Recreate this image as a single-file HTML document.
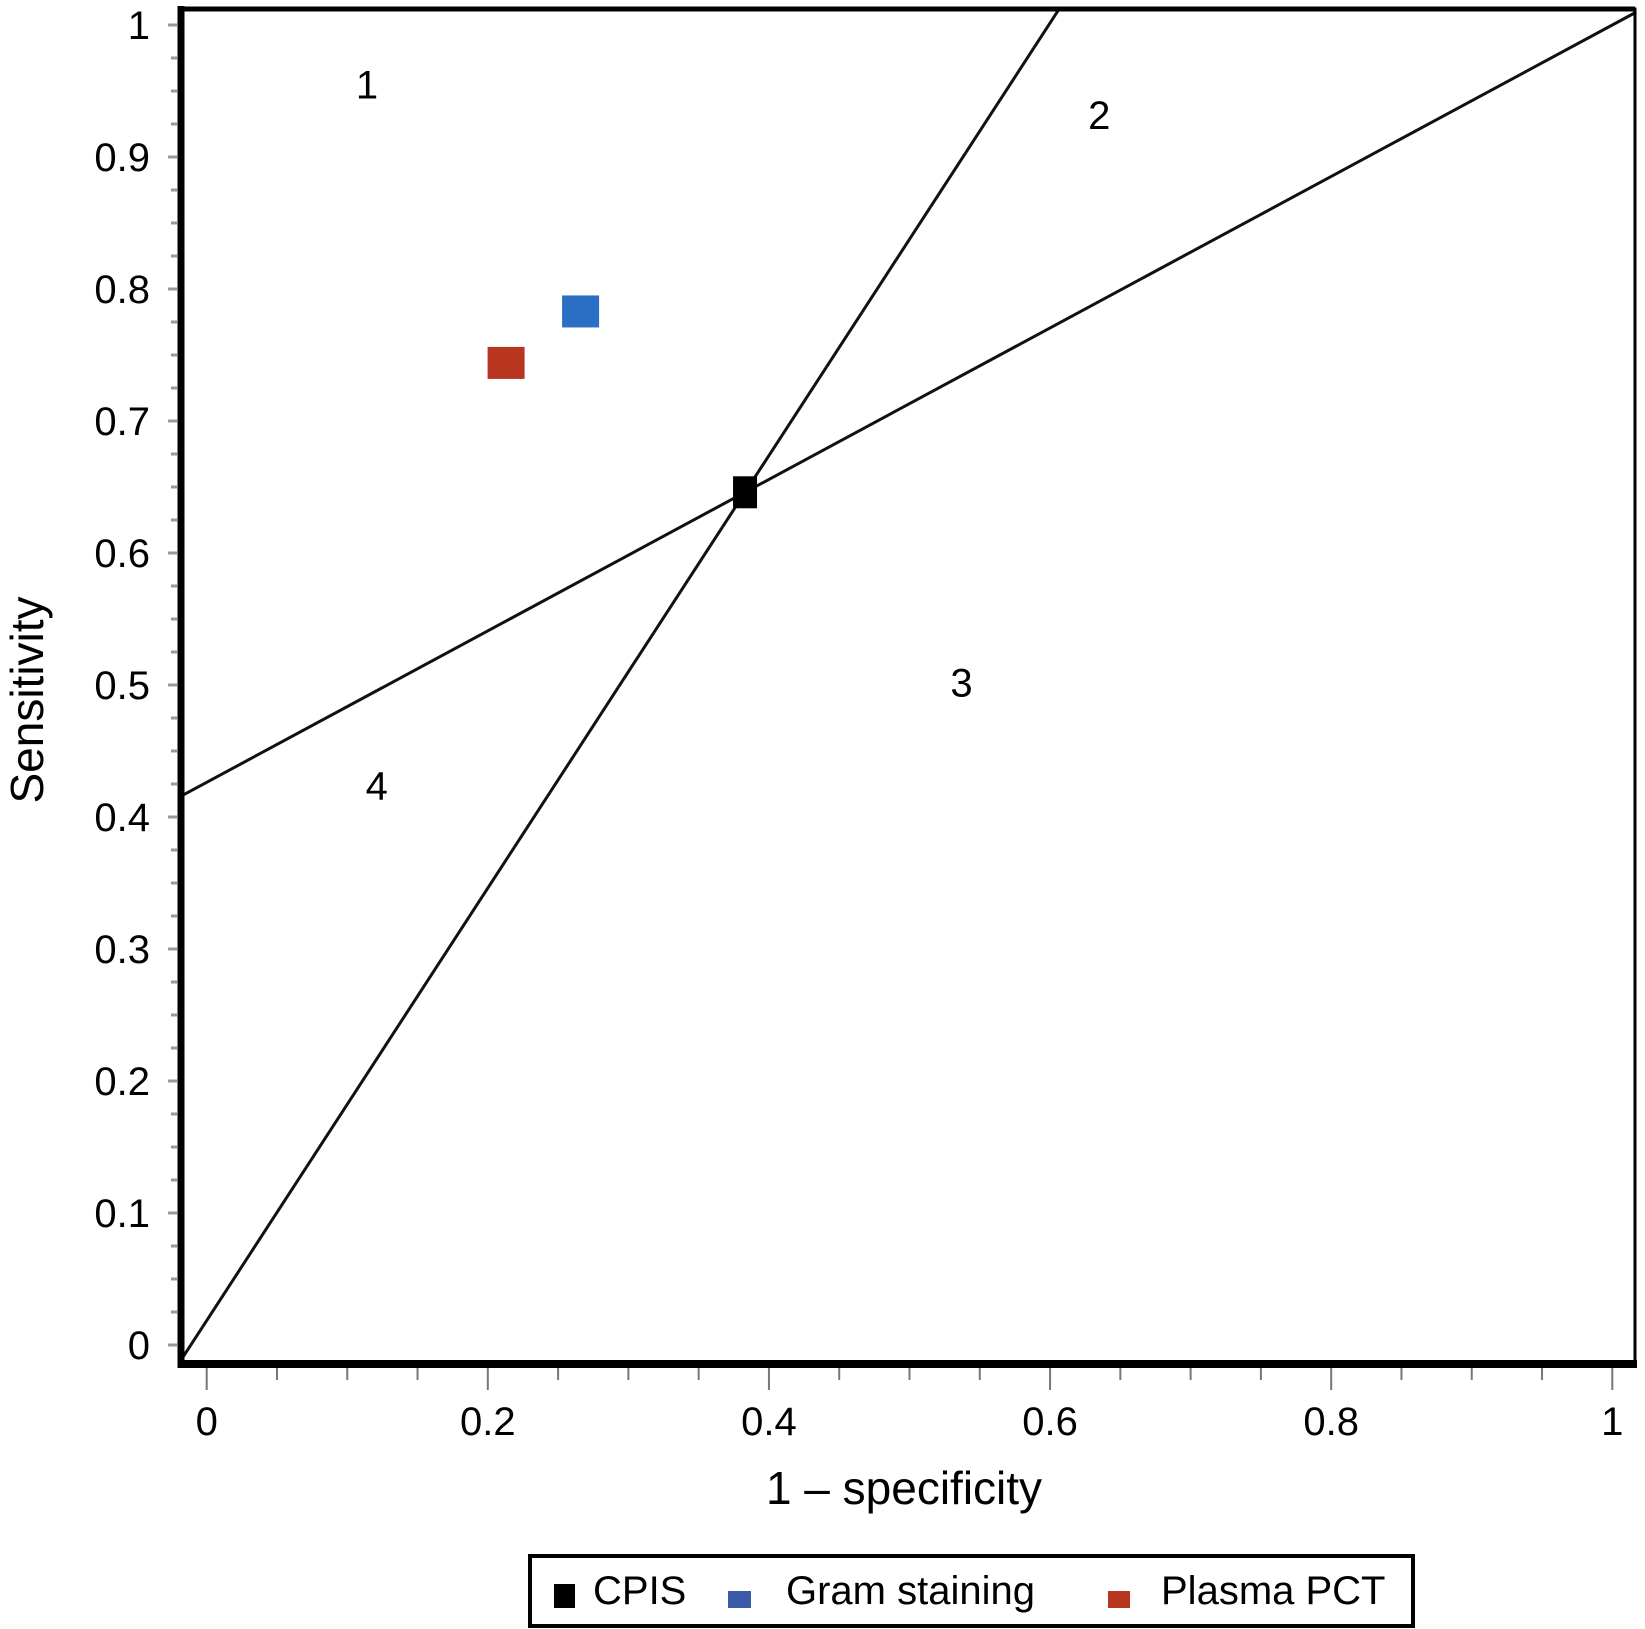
<!DOCTYPE html>
<html><head><meta charset="utf-8"><style>
html,body{margin:0;padding:0;background:#fff;}
svg{display:block;font-family:"Liberation Sans",sans-serif;}
</style></head><body>
<svg id="chart" width="1645" height="1629" viewBox="0 0 1645 1629">
<g id="ticks"></g>
<g id="lines"></g>
<g id="frame">
<rect x="181" y="9" width="1454" height="1353" fill="none" stroke="#000" stroke-width="3"/>
<line x1="181" y1="6" x2="181" y2="1368" stroke="#000" stroke-width="7"/>
<line x1="178" y1="1364" x2="1637" y2="1364" stroke="#000" stroke-width="8"/>
<line x1="181" y1="9" x2="1635" y2="9" stroke="#000" stroke-width="5"/>
</g>
<g id="points"></g>
<g id="regions"></g>
<text x="904" y="1504" font-size="46" text-anchor="middle">1 – specificity</text>
<text transform="translate(43,700) rotate(-90)" font-size="46" text-anchor="middle">Sensitivity</text>
<g>
<rect x="530" y="1556" width="883" height="70" fill="#fff" stroke="#000" stroke-width="4"/>
<g><rect x="554" y="1584" width="21" height="24" fill="#000"/><text x="593" y="1604" font-size="40">CPIS</text></g>
<g><rect x="728" y="1591" width="23" height="17" fill="#3a5aa8"/><text x="786" y="1604" font-size="40">Gram staining</text></g>
<g><rect x="1108" y="1591" width="22" height="17" fill="#b83520"/><text x="1161" y="1604" font-size="40">Plasma PCT</text></g>
</g>
</svg>
<script>
const xTicks=[0,0.2,0.4,0.6,0.8,1];
const xTickLabels=["0","0.2","0.4","0.6","0.8","1"];
const yTicks=[0,0.1,0.2,0.3,0.4,0.5,0.6,0.7,0.8,0.9,1];
const yTickLabels=["0","0.1","0.2","0.3","0.4","0.5","0.6","0.7","0.8","0.9","1"];
const pointNames=["CPIS","Gram staining","Plasma PCT"];
const pointX=[0.383,0.266,0.213];
const pointY=[0.646,0.783,0.744];
const pointColors=["#000","#2b6fc4","#b83520"];
const regionLabels=["1","2","3","4"];
const regionX=[0.114,0.635,0.537,0.121];
const regionY=[0.955,0.932,0.502,0.424];
const posLineTop=[0.607,1.013];
const NS="http://www.w3.org/2000/svg";
const X=v=>206.7+v*1405.6;
const Y=v=>1345-v*1320;
function mk(t,a,p){const e=document.createElementNS(NS,t);for(const k in a)e.setAttribute(k,a[k]);p.appendChild(e);return e;}
const tk=document.getElementById('ticks');
for(let i=0;i<=20;i++){const v=i*0.05;const maj=i%4===0;
 const l=mk('line',{x1:X(v),x2:X(v),y1:1368,y2:maj?1390:1380,stroke:'#777','stroke-width':2},tk);
 
 }
for(let i=0;i<=40;i++){const v=i*0.025;const maj=i%4===0;
 const l=mk('line',{x1:maj?168:171,x2:177,y1:Y(v),y2:Y(v),stroke:'#999','stroke-width':3},tk);
 
 }
xTicks.forEach((v,i)=>{const t=mk('text',{x:X(v),y:1435,'font-size':40,'text-anchor':'middle'},tk);t.textContent=xTickLabels[i];
 
 });
yTicks.forEach((v,i)=>{const t=mk('text',{x:150,y:Y(v)+14,'font-size':40,'text-anchor':'end'},tk);t.textContent=yTickLabels[i];
 
 });
const cx=pointX[0],cy=pointY[0];
const ln=document.getElementById('lines');
const s1=(posLineTop[1]-cy)/(posLineTop[0]-cx);
const yb=-0.012;
const l1=mk('line',{x1:X(cx+(yb-cy)/s1),y1:Y(yb),x2:X(posLineTop[0]),y2:Y(posLineTop[1]),stroke:'#111','stroke-width':3},ln);


const s2=(1-cy)/(1-cx);
const l2=mk('line',{x1:X(-0.018),y1:Y(cy+(-0.018-cx)*s2),x2:X(1.017),y2:Y(cy+(1.017-cx)*s2),stroke:'#111','stroke-width':3},ln);


const pg=document.getElementById('points');
pointX.forEach((v,i)=>{const w=i===0?24:37,h=32;
 const r=mk('rect',{x:X(v)-w/2,y:Y(pointY[i])-h/2,width:w,height:h,fill:pointColors[i]},pg);
 
 });
const rg=document.getElementById('regions');
regionLabels.forEach((s,i)=>{const t=mk('text',{x:X(regionX[i]),y:Y(regionY[i])+14,'font-size':40,'text-anchor':'middle'},rg);t.textContent=s;
 
 });
</script>
</body></html>
